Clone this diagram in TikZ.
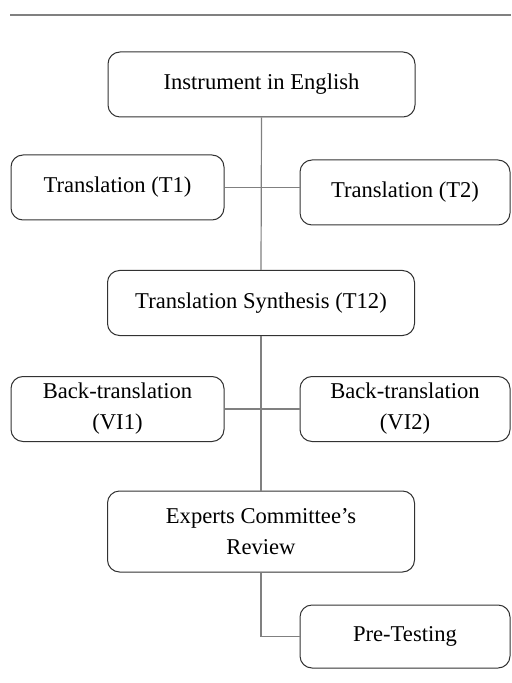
\documentclass[tikz,border=0pt]{standalone}
\usepackage{fontspec}
\setmainfont{Liberation Serif}
\definecolor{boxline}{RGB}{50, 50, 50}
\definecolor{linkgray}{RGB}{128, 128, 128}
\usetikzlibrary{positioning, calc}

\tikzset{
  stage/.style={draw=boxline, line width=0.5pt, rounded corners=6pt, align=center,
    font=\fontsize{11.3}{15.5}\selectfont, inner sep=2pt},
  widestage/.style={stage, minimum width=153.5pt, minimum height=32.5pt},
  sidestage/.style={stage, minimum width=106.5pt, minimum height=32.5pt},
  link/.style={draw=linkgray, line width=0.6pt}
}

\begin{document}
\begin{tikzpicture}[x=0.5pt, y=-0.5pt]
  \useasboundingbox (0,0) rectangle (511,683);

  % rule on top
  \coordinate (ruleL) at (10,15);
  \coordinate (ruleR) at (511,15);
  \draw[link] (ruleL) -- (ruleR);

  % main column
  \node[widestage] (english) at (261.5, 84.5) {Instrument in English};
  \node[widestage] (synth) at (261, 303) {Translation Synthesis (T12)};
  \node[widestage, minimum height=40.5pt] (experts) at (261, 531.5) {Experts Committee's\\Review};

  % forward translations
  \node[sidestage] (t1) at (117.5, 187.5) {Translation (T1)};
  \node[sidestage, minimum width=105pt] (t2) at (405, 192.5) {Translation (T2)};

  % back translations
  \node[sidestage] (bt1) at (117.5, 409) {Back-translation\\(VI1)};
  \node[sidestage, minimum width=105pt] (bt2) at (405, 409) {Back-translation\\(VI2)};

  % pretest
  \node[sidestage, minimum width=105pt, minimum height=31.5pt] (pretest) at (405, 636.5) {Pre-Testing};

  % connectors
  \draw[link] (english.south) -- (synth.north);
  \draw[link] (t1.east) -- (t1.east -| t2.west);
  \draw[link] (synth.south) -- (experts.north);
  \draw[link] (bt1.east) -- (bt2.west);
  \draw[link] (experts.south) |- (pretest.west);
\end{tikzpicture}
\end{document}
